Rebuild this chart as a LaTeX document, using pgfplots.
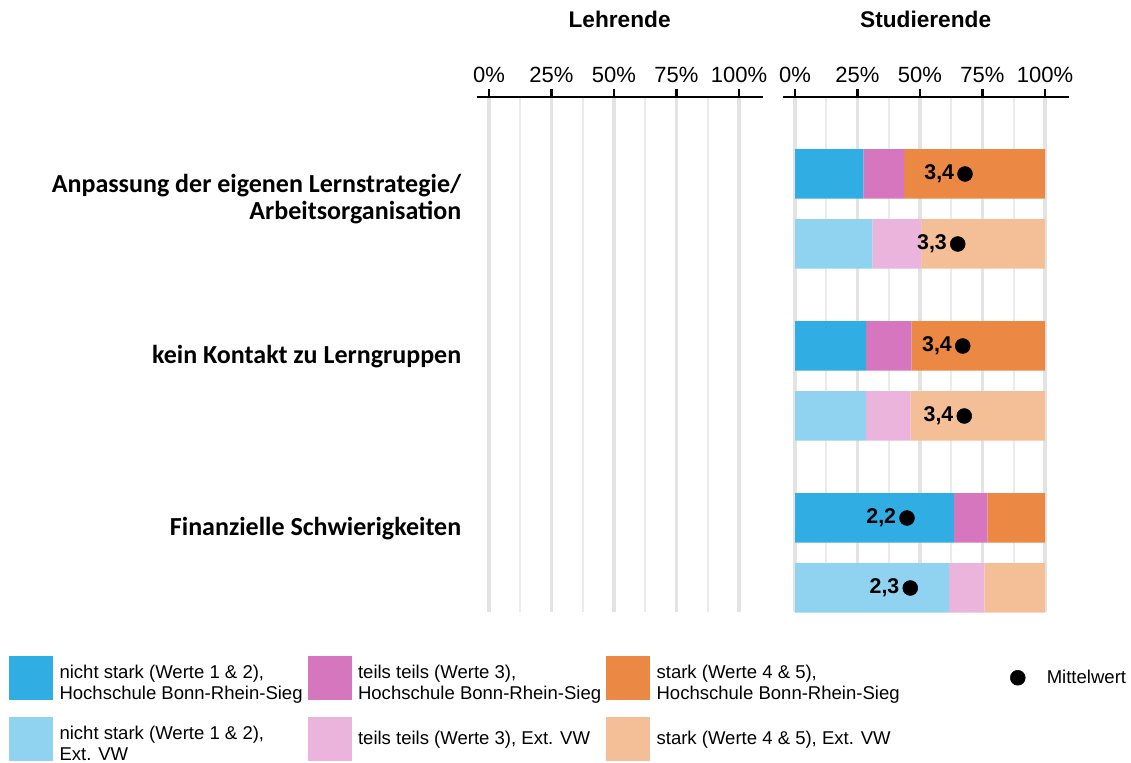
\documentclass[border=0pt]{standalone}
\usepackage{fontspec}
\setmainfont{Liberation Sans}
\newfontfamily\carlito{Carlito}
\usepackage{pgfplots}
\pgfplotsset{compat=1.18}

\definecolor{cBlue}{HTML}{30AEE4}
\definecolor{cPink}{HTML}{D676BE}
\definecolor{cOrange}{HTML}{EB8944}
\definecolor{cBlueL}{HTML}{8FD3F0}
\definecolor{cPinkL}{HTML}{EAB4DC}
\definecolor{cOrangeL}{HTML}{F4BF97}

\pgfplotsset{
  panel/.style={
    scale only axis, width=214.6875pt, height=386.25pt,
    xmin=-5, xmax=109.5, ymin=-438, ymax=77,
    axis x line*=top, axis y line=none,
    axis line style={line width=2pt, black, -},
    xtick={0,25,50,75,100}, xticklabels={0\%,25\%,50\%,75\%,100\%},
    minor xtick={12.5,37.5,62.5,87.5},
    xmajorgrids, xminorgrids,
    major grid style={color=black!11, line width=2.3pt},
    minor grid style={color=black!8, line width=1.3pt},
    tick align=outside, major tick length=6pt, minor tick length=0pt,
    tick style={black, line width=2pt},
    xticklabel style={font=\fontsize{16.5}{16.5}\selectfont, anchor=base, inner sep=0pt, yshift=4.5pt},
    ytick=\empty,
    clip=false,
    title style={at={(0.5,1)}, anchor=center, yshift=52.5pt, font=\bfseries\fontsize{17}{17}\selectfont},
  },
}
\tikzset{catlab/.style={anchor=east, align=right, inner sep=0pt, font={\carlito\bfseries\fontsize{19.5}{20}\selectfont}}}

\begin{document}
\begin{tikzpicture}
\useasboundingbox (0,0) rectangle (848.25pt,572.25pt);

% Lehrende (empty panel)
\begin{axis}[panel, at={(357.375pt,113.25pt)}, anchor=south west, title={Lehrende}]
  \addplot[draw=none, forget plot] coordinates {(0,0)};
  \node[catlab] at (axis cs:-11,-25) {Anpassung der eigenen Lernstrategie/\\Arbeitsorganisation};
  \node[catlab, anchor=base east] at (axis cs:-11,-190) {kein Kontakt zu Lerngruppen};
  \node[catlab, anchor=base east] at (axis cs:-11,-362) {Finanzielle Schwierigkeiten};
\end{axis}

% Studierende bars
\begin{axis}[panel, at={(586.875pt,113.25pt)}, anchor=south west, title={Studierende},
  xbar stacked, bar width=49.5]
  \addplot[fill=cBlue, draw=none] coordinates {(27.3,0) (0,-70) (28.4,-172) (0,-242) (63.5,-344) (0,-414)};
  \addplot[fill=cPink, draw=none] coordinates {(16.3,0) (0,-70) (18.1,-172) (0,-242) (13.4,-344) (0,-414)};
  \addplot[fill=cOrange, draw=none] coordinates {(56.4,0) (0,-70) (53.5,-172) (0,-242) (23.1,-344) (0,-414)};
  \addplot[fill=cBlueL, draw=none] coordinates {(0,0) (30.9,-70) (0,-172) (28.3,-242) (0,-344) (61.6,-414)};
  \addplot[fill=cPinkL, draw=none] coordinates {(0,0) (19.6,-70) (0,-172) (17.8,-242) (0,-344) (14.1,-414)};
  \addplot[fill=cOrangeL, draw=none] coordinates {(0,0) (49.5,-70) (0,-172) (53.9,-242) (0,-344) (24.3,-414)};
\end{axis}

% Means and legend
\begin{axis}[scale only axis, width=214.6875pt, height=386.25pt,
  xmin=-5, xmax=109.5, ymin=-438, ymax=77,
  at={(586.875pt,113.25pt)}, anchor=south west, hide axis, clip=false,
  legend columns=4, legend cell align=left,
  legend style={at={(-2.7022,-0.08544)}, anchor=north west, draw=none, fill=none,
    inner sep=0pt, outer sep=0pt, column sep=0pt, row sep=12.75pt,
    /tikz/every odd column/.append style={column sep=5.25pt},
    nodes={inner sep=0pt, font=\fontsize{13.9}{15.75}\selectfont}}]
  \addplot[only marks, mark=*, mark size=5.6pt, black, forget plot,
    point meta=explicit,
    nodes near coords={\pgfmathprintnumber[fixed, precision=1, use comma, assume math mode=true]{\pgfplotspointmeta}},
    nodes near coords style={anchor=east, xshift=-8pt, inner sep=0pt, black, font=\bfseries\fontsize{16}{16}\selectfont}]
    table[meta=m] {
    x y m
    68.0 0 3.4
    65.1 -70 3.3
    67.1 -172 3.4
    67.7 -242 3.4
    44.8 -344 2.2
    46.1 -414 2.3
  };
  \addlegendimage{legend image code/.code={\fill[cBlue] (0pt,-16.125pt) rectangle (32.25pt,16.125pt);}}
  \addlegendentry{\parbox{186pt}{\raggedright nicht stark (Werte 1 \& 2),\\Hochschule Bonn-Rhein-Sieg}}
  \addlegendimage{legend image code/.code={\fill[cPink] (0pt,-16.125pt) rectangle (32.25pt,16.125pt);}}
  \addlegendentry{\parbox{186pt}{\raggedright teils teils (Werte 3),\\Hochschule Bonn-Rhein-Sieg}}
  \addlegendimage{legend image code/.code={\fill[cOrange] (0pt,-16.125pt) rectangle (32.25pt,16.125pt);}}
  \addlegendentry{\parbox{265.1pt}{\raggedright stark (Werte 4 \& 5),\\Hochschule Bonn-Rhein-Sieg}}
  \addlegendimage{legend image code/.code={\path[draw=none, fill=none] (0pt,-1pt) rectangle (22.1pt,1pt); \fill[black] (5.6pt,0pt) circle (5.6pt);}}
  \addlegendentry{Mittelwert}
  \addlegendimage{legend image code/.code={\fill[cBlueL] (0pt,-16.125pt) rectangle (32.25pt,16.125pt);}}
  \addlegendentry{\parbox{186pt}{\raggedright nicht stark (Werte 1 \& 2),\\Ext. VW}}
  \addlegendimage{legend image code/.code={\fill[cPinkL] (0pt,-16.125pt) rectangle (32.25pt,16.125pt);}}
  \addlegendentry{\parbox{186pt}{\raggedright teils teils (Werte 3), Ext. VW}}
  \addlegendimage{legend image code/.code={\fill[cOrangeL] (0pt,-16.125pt) rectangle (32.25pt,16.125pt);}}
  \addlegendentry{\parbox{265.1pt}{\raggedright stark (Werte 4 \& 5), Ext. VW}}
\end{axis}
\end{tikzpicture}
\end{document}
